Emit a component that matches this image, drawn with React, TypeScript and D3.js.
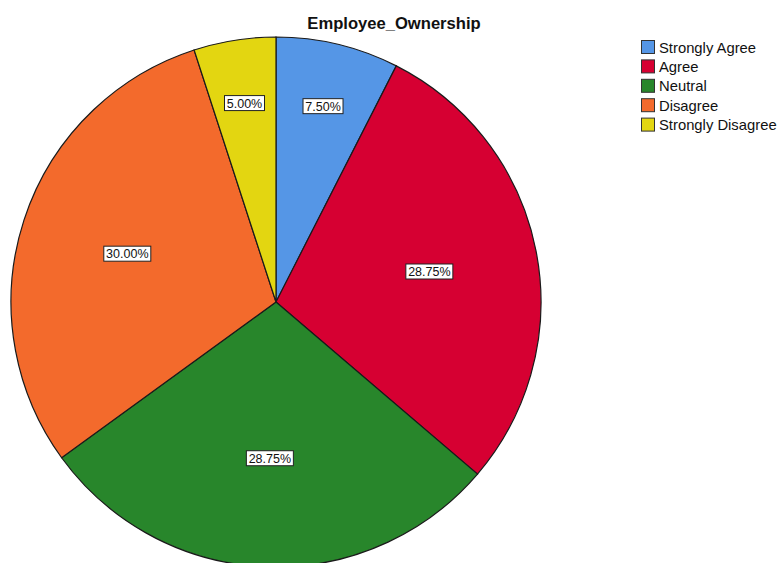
import React from "react";
import * as d3 from "d3";

const categories = ["Strongly Agree", "Agree", "Neutral", "Disagree", "Strongly Disagree"];
const percents = [7.5, 28.75, 28.75, 30.0, 5.0];
const colors = ["#5596e6", "#d60032", "#28862b", "#f36a2c", "#e3d611"];
const title = "Employee_Ownership";

const W = 779;
const H = 563;
const cx = 276;
const cy = 302;
const R = 265;

export default function App() {
  const pie = d3.pie<number>().sort(null).value((d) => d)(percents);
  const arc = d3.arc<d3.PieArcDatum<number>>().innerRadius(0).outerRadius(R);
  return (
    <svg
      width={W}
      height={H}
      style={{ position: "absolute", left: 0, top: 0, background: "#fff" }}
      fontFamily="'Liberation Sans', Arial, sans-serif"
    >
      <text x={394} y={29} textAnchor="middle" fontWeight="bold" fontSize={16.6} fill="#111">
        {title}
      </text>
      <g transform={`translate(${cx},${cy})`}>
        {pie.map((p, i) => (
          <path key={i} d={arc(p) || ""} fill={colors[i]} stroke="#1a1a1a" strokeWidth={1.2} />
        ))}
        {pie.map((p, i) => {
          const mid = (p.startAngle + p.endAngle) / 2;
          const frac = percents[i] < 10 ? 0.76 : 0.59;
          const x = Math.sin(mid) * R * frac;
          const y = -Math.cos(mid) * R * frac;
          const label = percents[i].toFixed(2) + "%";
          const bw = label.length * 7 + 5;
          return (
            <g key={"l" + i} transform={`translate(${x},${y})`}>
              <rect x={-bw / 2} y={-7.5} width={bw} height={15} fill="#fff" stroke="#222" strokeWidth={1} />
              <text x={0} y={4.5} textAnchor="middle" fontSize={12.5} fill="#111">
                {label}
              </text>
            </g>
          );
        })}
      </g>
      <g transform="translate(641,40)">
        {categories.map((c, i) => (
          <g key={c} transform={`translate(0,${i * 19.4})`}>
            <rect x={0.5} y={0.5} width={13} height={13} fill={colors[i]} stroke="#333" strokeWidth={1} />
            <text x={18} y={12.5} fontSize={14.8} fill="#111">
              {c}
            </text>
          </g>
        ))}
      </g>
    </svg>
  );
}
